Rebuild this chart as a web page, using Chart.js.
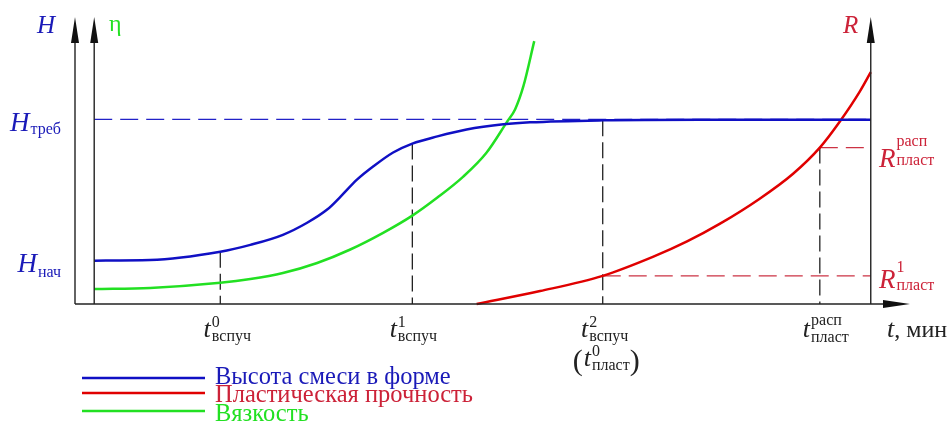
<!DOCTYPE html>
<html>
<head>
<meta charset="utf-8">
<script src="https://cdn.jsdelivr.net/npm/chart.js@4/dist/chart.umd.min.js"></script>
<style>
  body { margin: 0; background: #fff; }
  canvas { display: block; }
</style>
</head>
<body>
<canvas id="c" width="951" height="423"></canvas>
<script>
// Данные (условные единицы: время 0..100, величина 0..100)
const blueT = [2.3, 9.0, 17.4, 21.0, 24.9, 27.8, 30.2, 31.7, 33.8, 35.7, 38.1, 40.4, 43.4, 46.9, 51.3, 54.5, 63.2, 74.9, 95.3];
const blueH = [15.1, 15.3, 18.2, 20.6, 24.1, 28.3, 32.9, 37.1, 43.4, 47.9, 52.8, 55.9, 58.4, 60.8, 62.6, 63.3, 64.0, 64.2, 64.2];

const greenT = [2.3, 9.0, 17.4, 21.0, 24.9, 29.0, 32.9, 36.9, 40.4, 43.4, 46.5, 49.3, 51.7, 52.7, 53.7, 55.0];
const greenV = [5.2, 5.6, 7.4, 8.7, 10.8, 14.3, 18.9, 24.8, 30.8, 37.1, 44.4, 52.8, 63.3, 67.8, 75.9, 91.6];

const redT = [48.1, 55.7, 63.2, 69.2, 73.3, 77.2, 82.0, 86.0, 89.2, 91.6, 94.0, 95.3];
const redR = [0, 4.5, 9.8, 16.4, 21.8, 27.9, 36.7, 45.4, 54.5, 63.6, 74.1, 80.8];

const seriesNames = ['Высота смеси в форме', 'Пластическая прочность', 'Вязкость'];

// вспомогательные линии
const hRequired = 64.3;
const hStart = 15.1;
const etaAxisT = 2.3;
const rAxisT = 95.3;
const markT = [17.4, 40.4, 63.2, 89.2];
const markTop = [18.2, 55.9, 64.0, 54.5];
const rLevels = [9.8, 54.5];
const rLevelFrom = [63.2, 89.2];

const BLUE = '#1010c4';
const RED = '#e00000';
const GREEN = '#22e022';
const BLUE_TXT = '#1a1ab8';
const RED_TXT = '#cc2238';
const SERIF = '"Liberation Serif", "DejaVu Serif", serif';

function pts(xs, ys) {
    return xs.map((x, i) => ({ x: x, y: ys[i] }));
}

// текст с верхним и нижним индексом
function label(ctx, x, y, color, o) {
    ctx.save();
    ctx.fillStyle = color;
    ctx.textBaseline = 'alphabetic';
    ctx.textAlign = 'left';
    ctx.font = 'italic ' + o.size + 'px ' + SERIF;
    const bw = ctx.measureText(o.base).width;
    ctx.font = o.small + 'px ' + SERIF;
    const supW = o.sup ? ctx.measureText(o.sup).width : 0;
    const subW = o.sub ? ctx.measureText(o.sub).width : 0;
    const total = bw + 1 + Math.max(supW, subW);
    let x0 = x;
    if (o.align === 'right') x0 = x - total;
    if (o.align === 'center') x0 = x - total / 2;
    ctx.font = 'italic ' + o.size + 'px ' + SERIF;
    ctx.fillText(o.base, x0, y);
    ctx.font = o.small + 'px ' + SERIF;
    if (o.sup) ctx.fillText(o.sup, x0 + bw + 1, y + o.supDy);
    if (o.sub) ctx.fillText(o.sub, x0 + bw + 1, y + o.subDy);
    ctx.restore();
    return { left: x0, right: x0 + total };
}

function arrowUp(ctx, x, y) {
    ctx.beginPath();
    ctx.moveTo(x, y);
    ctx.lineTo(x - 4, y + 26);
    ctx.lineTo(x + 4, y + 26);
    ctx.closePath();
    ctx.fill();
}

const schemePlugin = {
    id: 'scheme',
    beforeDatasetsDraw(chart) {
        const ctx = chart.ctx;
        const xs = chart.scales.x, ys = chart.scales.y;
        const px = v => xs.getPixelForValue(v);
        const py = v => ys.getPixelForValue(v);
        ctx.save();
        ctx.lineWidth = 1.3;
        // H_треб
        ctx.setLineDash([18, 8]);
        ctx.strokeStyle = '#2222c8';
        ctx.beginPath();
        ctx.moveTo(px(etaAxisT), py(hRequired));
        ctx.lineTo(px(rAxisT), py(hRequired));
        ctx.stroke();
        // уровни R
        ctx.strokeStyle = '#cc3344';
        rLevels.forEach((r, i) => {
            ctx.beginPath();
            ctx.moveTo(px(rLevelFrom[i]), py(r));
            ctx.lineTo(px(rAxisT), py(r));
            ctx.stroke();
        });
        // вертикальные отметки времени
        ctx.setLineDash([16, 6]);
        ctx.strokeStyle = '#222';
        markT.forEach((t, i) => {
            ctx.beginPath();
            ctx.moveTo(px(t), py(markTop[i]));
            ctx.lineTo(px(t), py(0));
            ctx.stroke();
        });
        ctx.restore();
    },
    afterDatasetsDraw(chart) {
        const ctx = chart.ctx;
        const xs = chart.scales.x, ys = chart.scales.y;
        const px = v => xs.getPixelForValue(v);
        const py = v => ys.getPixelForValue(v);
        const top = py(100), bottom = py(0);

        // оси
        ctx.save();
        ctx.strokeStyle = '#222';
        ctx.fillStyle = '#111';
        ctx.lineWidth = 1.4;
        [0, etaAxisT, rAxisT].forEach(t => {
            ctx.beginPath();
            ctx.moveTo(px(t), bottom);
            ctx.lineTo(px(t), top + 10);
            ctx.stroke();
            arrowUp(ctx, px(t), top);
        });
        ctx.beginPath();
        ctx.moveTo(px(0), bottom);
        ctx.lineTo(px(100) - 10, bottom);
        ctx.stroke();
        ctx.beginPath();
        ctx.moveTo(px(100), bottom);
        ctx.lineTo(px(100) - 27, bottom - 4);
        ctx.lineTo(px(100) - 27, bottom + 4);
        ctx.closePath();
        ctx.fill();
        ctx.restore();

        // подписи осей
        ctx.save();
        ctx.textBaseline = 'alphabetic';
        ctx.font = 'italic 25px ' + SERIF;
        ctx.fillStyle = BLUE_TXT;
        ctx.fillText('H', 37, 33);
        ctx.fillStyle = RED_TXT;
        ctx.fillText('R', 843, 33);
        ctx.font = '24px ' + SERIF;
        ctx.fillStyle = GREEN;
        ctx.fillText('η', 109, 31);
        ctx.restore();

        label(ctx, 61, py(hRequired) + 12, BLUE_TXT,
            { base: 'H', sub: 'треб', size: 27, small: 16, subDy: 3, align: 'right' });
        label(ctx, 61, py(hStart) + 11, BLUE_TXT,
            { base: 'H', sub: 'нач', size: 27, small: 16, subDy: 5, align: 'right' });

        label(ctx, 879, py(rLevels[1]) + 19, RED_TXT,
            { base: 'R', sup: 'расп', sub: 'пласт', size: 27, small: 16, supDy: -21, subDy: -2 });
        label(ctx, 879, py(rLevels[0]) + 12, RED_TXT,
            { base: 'R', sup: '1', sub: 'пласт', size: 27, small: 16, supDy: -16, subDy: 2 });

        const tl = 337;
        label(ctx, px(markT[0]) + 7, tl, '#222',
            { base: 't', sup: '0', sub: 'вспуч', size: 26, small: 16, supDy: -10, subDy: 4, align: 'center' });
        label(ctx, px(markT[1]) + 1, tl, '#222',
            { base: 't', sup: '1', sub: 'вспуч', size: 26, small: 16, supDy: -10, subDy: 4, align: 'center' });
        label(ctx, px(markT[2]) + 2, tl, '#222',
            { base: 't', sup: '2', sub: 'вспуч', size: 26, small: 16, supDy: -10, subDy: 4, align: 'center' });
        label(ctx, px(markT[3]) + 6, tl, '#222',
            { base: 't', sup: 'расп', sub: 'пласт', size: 26, small: 16, supDy: -12, subDy: 5, align: 'center' });

        // (t^0_пласт)
        const inner = label(ctx, px(markT[2]) + 4, 366, '#222',
            { base: 't', sup: '0', sub: 'пласт', size: 26, small: 16, supDy: -10, subDy: 4, align: 'center' });
        ctx.save();
        ctx.fillStyle = '#222';
        ctx.font = '30px ' + SERIF;
        ctx.textAlign = 'right';
        ctx.fillText('(', inner.left - 1, 370);
        ctx.textAlign = 'left';
        ctx.fillText(')', inner.right, 370);
        ctx.restore();

        // t, мин
        ctx.save();
        ctx.fillStyle = '#222';
        ctx.font = 'italic 26px ' + SERIF;
        ctx.fillText('t', 887, 337);
        const w = ctx.measureText('t').width;
        ctx.font = '24px ' + SERIF;
        ctx.fillText(', мин', 887 + w, 337);
        ctx.restore();

        // легенда
        const colors = [BLUE, RED, GREEN];
        const txtColors = [BLUE_TXT, RED_TXT, GREEN];
        const lineY = [378, 393, 411];
        const baseY = [384, 402, 421];
        ctx.save();
        ctx.lineWidth = 2.5;
        ctx.font = '24.5px ' + SERIF;
        seriesNames.forEach((name, i) => {
            ctx.strokeStyle = colors[i];
            ctx.beginPath();
            ctx.moveTo(82, lineY[i]);
            ctx.lineTo(205, lineY[i]);
            ctx.stroke();
            ctx.fillStyle = txtColors[i];
            ctx.fillText(name, 215, baseY[i]);
        });
        ctx.restore();
    }
};

const ds = (name, data, color) => ({
    label: name,
    data: data,
    borderColor: color,
    borderWidth: 2.5,
    pointRadius: 0,
    fill: false,
    cubicInterpolationMode: 'monotone',
    clip: false
});

new Chart(document.getElementById('c'), {
    type: 'line',
    data: {
        datasets: [
            ds(seriesNames[0], pts(blueT, blueH), BLUE),
            ds(seriesNames[1], pts(redT, redR), RED),
            ds(seriesNames[2], pts(greenT, greenV), GREEN)
        ]
    },
    options: {
        responsive: false,
        animation: false,
        devicePixelRatio: 1,
        layout: { padding: { left: 75, right: 41, top: 17, bottom: 119 } },
        plugins: {
            legend: { display: false },
            tooltip: { enabled: false }
        },
        scales: {
            x: { type: 'linear', min: 0, max: 100, display: false },
            y: { type: 'linear', min: 0, max: 100, display: false }
        }
    },
    plugins: [schemePlugin]
});
</script>
</body>
</html>
